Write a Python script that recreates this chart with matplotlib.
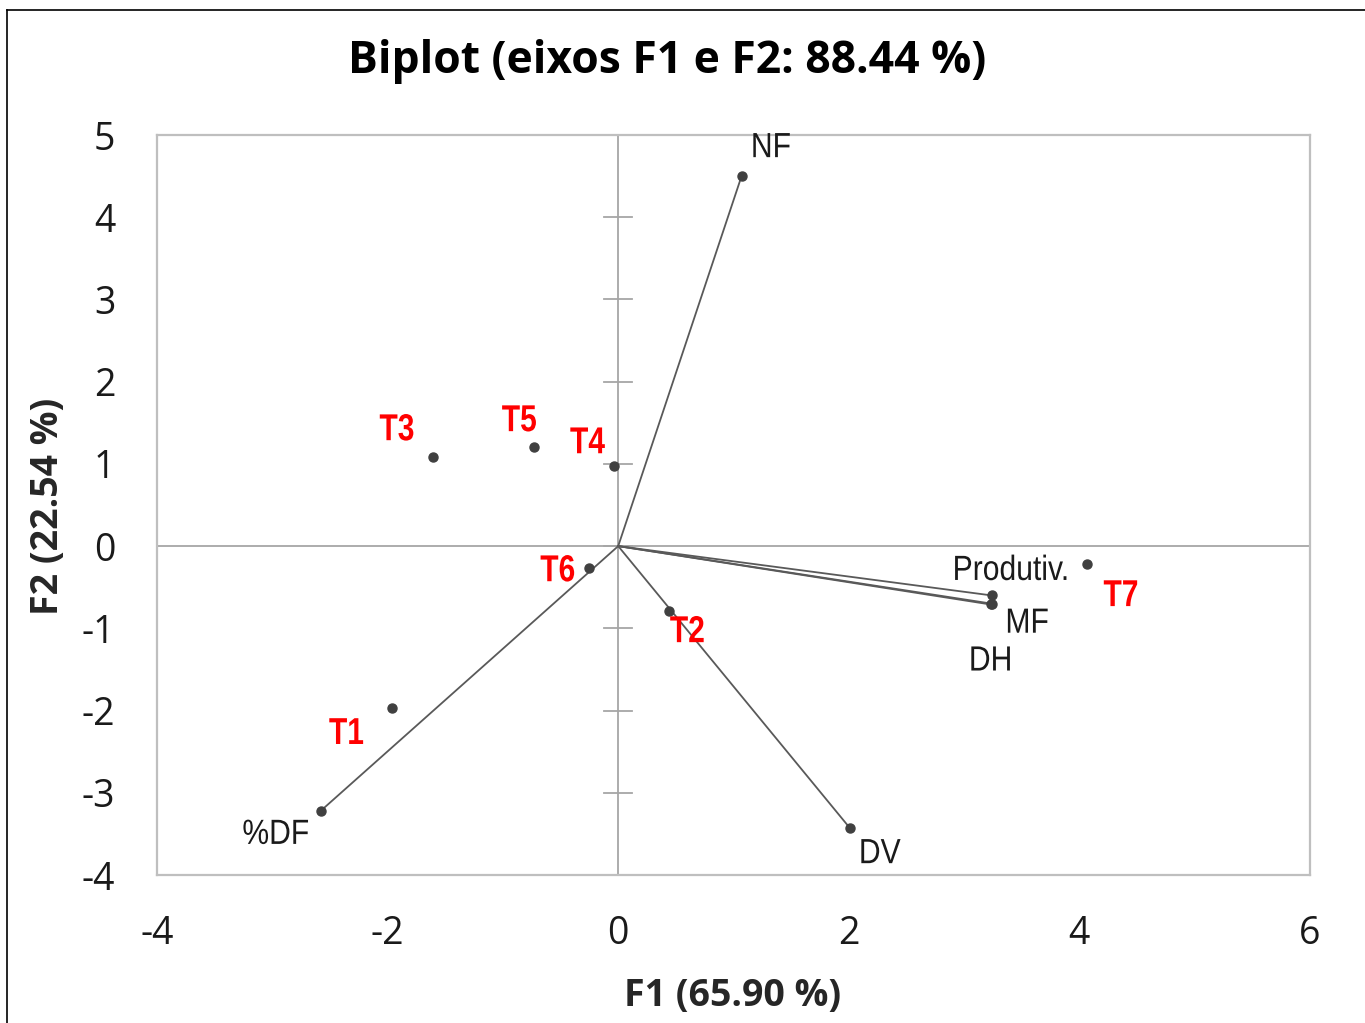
import numpy as np
import matplotlib.pyplot as plt
from matplotlib.font_manager import FontProperties
from matplotlib.textpath import TextPath
from matplotlib.patches import PathPatch
from matplotlib.transforms import Affine2D
from matplotlib.lines import Line2D

plt.rcParams['axes.unicode_minus'] = False

# variable loadings (vectors)
var_names = ['NF', 'Produtiv.', 'MF', 'DH', 'DV', '%DF']
var_x = [1.07, 3.24, 3.24, 3.23, 2.01, -2.58]
var_y = [4.50, -0.60, -0.70, -0.71, -3.43, -3.22]

# observations (treatments)
obs_names = ['T1', 'T2', 'T3', 'T4', 'T5', 'T6', 'T7']
obs_x = [-1.96, 0.44, -1.61, -0.04, -0.73, -0.25, 4.07]
obs_y = [-1.97, -0.79, 1.08, 0.97, 1.20, -0.27, -0.22]

# label offsets in pixels (dx, dy), dy up
var_off = [(30, 31), (19, 28), (36, -17), (0, -54), (31, -23), (-45, -21)]
obs_off = [(-46, -23), (18, -18), (-36, 30), (-26, 26), (-15, 29), (-32, 0), (33, -29)]

xticks = [-4, -2, 0, 2, 4, 6]
yticks = [-4, -3, -2, -1, 0, 1, 2, 3, 4, 5]

fig = plt.figure(figsize=(13.65, 10.23), dpi=100)
ax = fig.add_axes([157 / 1365, 1 - 875 / 1023, (1310 - 157) / 1365, (875 - 135) / 1023])

# figure border (top and left only)
fig.lines.append(Line2D([7 / 1365, 1], [1 - 10 / 1023, 1 - 10 / 1023], transform=fig.transFigure,
                        color='black', linewidth=1.2))
fig.lines.append(Line2D([7 / 1365, 7 / 1365], [0, 1 - 10 / 1023], transform=fig.transFigure,
                        color='black', linewidth=1.2))

ax.set_xlim(-4, 6)
ax.set_ylim(-4, 5)

gray = '#a6a6a6'
for s in ax.spines.values():
    s.set_color('#bfbfbf')
    s.set_linewidth(1.6)

ax.axhline(0, color=gray, linewidth=1.3, zorder=1)
ax.axvline(0, color=gray, linewidth=1.3, zorder=1)
# tick marks on the vertical zero line
for t in yticks:
    ax.plot([-0.12, 0.12], [t, t], color=gray, linewidth=1.3, zorder=1)

ax.set_xticks(xticks)
ax.set_yticks(yticks)
ax.tick_params(length=0, colors='#1a1a1a')
ax.tick_params(axis='x', pad=29)
ax.tick_params(axis='y', pad=30)
for lab in ax.get_xticklabels() + ax.get_yticklabels():
    lab.set_family(['Open Sans', 'DejaVu Sans'])
    lab.set_fontsize(27)


def narrow_label(s, x, y, dx, dy, size_px, sx, color, weight):
    # condensed text drawn as a path, centred on the point plus an offset
    prop = FontProperties(family='Liberation Sans', weight=weight)
    tp = TextPath((0, 0), s, size=size_px, prop=prop)
    bb = tp.get_extents()
    px, py = ax.transData.transform((x, y))
    tr = (Affine2D().translate(-(bb.x0 + bb.x1) / 2, -(bb.y0 + bb.y1) / 2)
          .scale(sx, 1).translate(px + dx, py + dy))
    ax.add_patch(PathPatch(tp, transform=tr, facecolor=color, edgecolor='none',
                           clip_on=False, zorder=4))


for n, x, y, (dx, dy) in zip(var_names, var_x, var_y, var_off):
    ax.plot([0, x], [0, y], color='#595959', linewidth=1.3, zorder=2)
    ax.plot(x, y, 'o', color='#404040', markersize=6.5, zorder=3)
    narrow_label(n, x, y, dx, dy, 35, 0.86, '#1a1a1a', 'normal')

for n, x, y, (dx, dy) in zip(obs_names, obs_x, obs_y, obs_off):
    ax.plot(x, y, 'o', color='#404040', markersize=6.5, zorder=3)
    narrow_label(n, x, y, dx, dy, 37.5, 0.8, '#ff0000', 'bold')

fig.text(667 / 1365, 1 - 62 / 1023, 'Biplot (eixos F1 e F2: 88.44 %)', ha='center', va='center',
         fontsize=32, fontweight='bold', family=['Open Sans', 'DejaVu Sans'])
fig.text(733 / 1365, 1 - 996 / 1023, 'F1 (65.90 %)', ha='center', va='center',
         fontsize=27, fontweight='bold', family=['Open Sans', 'DejaVu Sans'], color='#262626')
fig.text(48 / 1365, 1 - 506 / 1023, 'F2 (22.54 %)', ha='center', va='center', rotation=90,
         fontsize=27, fontweight='bold', family=['Open Sans', 'DejaVu Sans'], color='#262626')

fig.savefig('out.png', dpi=100)
